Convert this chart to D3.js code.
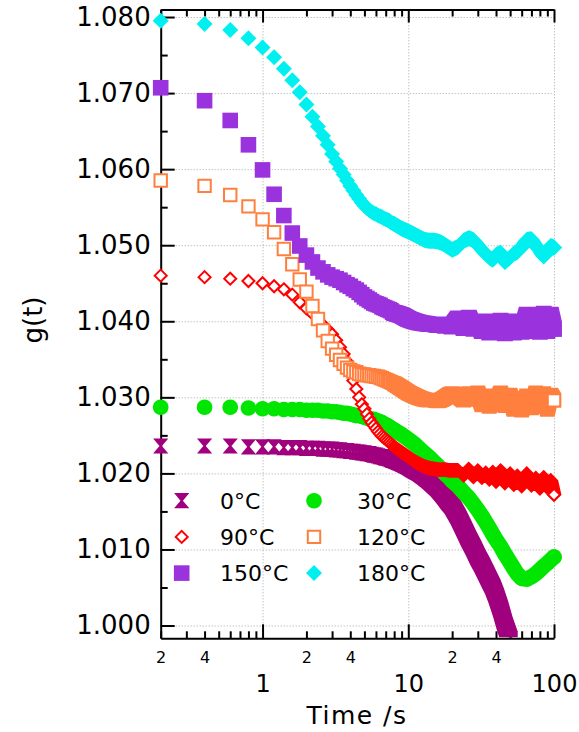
<!DOCTYPE html>
<html>
<head>
<meta charset="utf-8">
<script src="https://cdn.jsdelivr.net/npm/d3@7"></script>
<style>
  body { margin: 0; background: #fff; }
  svg { display: block; }
</style>
</head>
<body>
<script>
// ================= DATA ======================
// time points (s)
const times = [0.2,0.4,0.6,0.8,1.0,1.2,1.4,1.6,1.8,2.0,
               2.2,2.4,2.6,2.8,3.0,3.2,3.4,3.6,3.8,4.0,
               4.2,4.4,4.6,4.8,5.0,5.2,5.4,5.6,5.8,6.0,
               6.2,6.4,6.6,6.8,7.0,7.2,7.4,7.6,7.8,8.0,
               9,10,11,12,13,14,15,16,17,18,19,20,
               22,24,26,28,30,32,34,36,38,40,
               43,46,50,53,56,60,65,70,75,80,85,90,95,100];

const seriesNames = ["0°C", "30°C", "90°C", "120°C", "150°C", "180°C"];

const g0 = [1.0236,1.0236,1.0236,1.0235,1.0235,1.0235,1.0234,1.0234,1.0234,1.0233,
            1.0233,1.0233,1.0232,1.0232,1.0232,1.0231,1.0231,1.0230,1.0230,1.0229,
            1.0229,1.0228,1.0228,1.0227,1.0227,1.0226,1.0226,1.0225,1.0224,1.0224,
            1.0223,1.0222,1.0222,1.0221,1.0220,1.0220,1.0219,1.0218,1.0217,1.0217,
            1.0213,1.0209,1.0204,1.0200,1.0195,1.0190,1.0185,1.0180,1.0174,1.0168,1.0162,1.0157,
            1.0143,1.0128,1.0114,1.0102,1.0090,1.0080,1.0070,1.0060,1.0051,1.0040,
            1.0022,1.0002,0.9982];

const g30 = [1.0287,1.0287,1.0287,1.0286,1.0285,1.0285,1.0284,1.0284,1.0284,1.0283,
             1.0283,1.0283,1.0282,1.0282,1.0281,1.0281,1.0280,1.0279,1.0279,1.0278,
             1.0277,1.0276,1.0276,1.0275,1.0274,1.0273,1.0272,1.0271,1.0271,1.0270,
             1.0269,1.0268,1.0267,1.0265,1.0264,1.0263,1.0261,1.0260,1.0258,1.0257,
             1.0251,1.0245,1.0239,1.0232,1.0226,1.0221,1.0215,1.0210,1.0204,1.0199,1.0195,1.0190,
             1.0183,1.0175,1.0168,1.0160,1.0152,1.0144,1.0136,1.0128,1.0120,1.0113,
             1.0104,1.0094,1.0083,1.0075,1.0068,1.0062,1.0061,1.0064,1.0068,1.0073,1.0078,1.0082,1.0086,1.0090];

const g90 = [1.0460,1.0458,1.0456,1.0453,1.0450,1.0446,1.0442,1.0435,1.0425,1.0417,
             1.0410,1.0404,1.0395,1.0389,1.0383,1.0375,1.0366,1.0357,1.0347,1.0335,
             1.0322,1.0311,1.0300,1.0291,1.0285,1.0278,1.0272,1.0267,1.0263,1.0259,
             1.0255,1.0252,1.0249,1.0247,1.0245,1.0243,1.0241,1.0239,1.0237,1.0235,
             1.0228,1.0222,1.0216,1.0212,1.0209,1.0207,1.0206,1.0205,1.0205,1.0205,1.0204,1.0204,
             1.0204,1.0197,1.0206,1.0195,1.0204,1.0194,1.0201,1.0192,1.0202,1.0189,
             1.0204,1.0187,1.0200,1.0185,1.0197,1.0183,1.0200,1.0184,1.0194,1.0180,1.0195,1.0181,1.0191,1.0172];

const g120 = [1.0585,1.0578,1.0566,1.0551,1.0534,1.0517,1.0495,1.0475,1.0455,1.0439,
              1.0420,1.0403,1.0388,1.0374,1.0364,1.0356,1.0349,1.0344,1.0339,1.0336,
              1.0334,1.0333,1.0331,1.0330,1.0330,1.0329,1.0329,1.0328,1.0328,1.0327,
              1.0327,1.0326,1.0325,1.0324,1.0323,1.0322,1.0321,1.0320,1.0319,1.0318,
              1.0312,1.0306,1.0302,1.0299,1.0297,1.0296,1.0296,1.0295,1.0297,1.0300,1.0303,1.0305,
              1.0302,1.0296,1.0305,1.0297,1.0306,1.0290,1.0299,1.0288,1.0302,1.0293,
              1.0306,1.0289,1.0303,1.0284,1.0299,1.0283,1.0302,1.0286,1.0306,1.0289,1.0305,1.0284,1.0303,1.0296];

const g150 = [1.0707,1.0690,1.0664,1.0632,1.0599,1.0567,1.0539,1.0516,1.0499,1.0487,
              1.0478,1.0470,1.0465,1.0461,1.0458,1.0456,1.0454,1.0451,1.0448,1.0446,
              1.0443,1.0441,1.0438,1.0435,1.0432,1.0430,1.0428,1.0426,1.0424,1.0423,
              1.0422,1.0421,1.0419,1.0418,1.0417,1.0416,1.0415,1.0414,1.0412,1.0411,
              1.0408,1.0403,1.0400,1.0398,1.0397,1.0396,1.0396,1.0395,1.0396,1.0394,1.0395,1.0393,
              1.0404,1.0391,1.0405,1.0390,1.0400,1.0387,1.0398,1.0385,1.0400,1.0385,
              1.0401,1.0384,1.0400,1.0385,1.0399,1.0386,1.0409,1.0387,1.0409,1.0386,1.0410,1.0387,1.0409,1.0390];

const g180 = [1.0795,1.0791,1.0783,1.0772,1.0760,1.0747,1.0732,1.0717,1.0701,1.0685,
              1.0669,1.0656,1.0644,1.0632,1.0620,1.0610,1.0601,1.0593,1.0585,1.0578,
              1.0572,1.0566,1.0561,1.0556,1.0552,1.0549,1.0546,1.0544,1.0542,1.0541,
              1.0539,1.0538,1.0537,1.0535,1.0534,1.0533,1.0532,1.0530,1.0529,1.0528,
              1.0522,1.0518,1.0514,1.0510,1.0507,1.0506,1.0506,1.0505,1.0503,1.0500,1.0497,1.0494,
              1.0498,1.0506,1.0509,1.0507,1.0500,1.0494,1.0488,1.0484,1.0481,1.0487,
              1.0490,1.0478,1.0484,1.0489,1.0491,1.0497,1.0507,1.0508,1.0499,1.0493,1.0485,1.0490,1.0499,1.0497];

const seriesValues = [g0, g30, g90, g120, g150, g180];

// tick values
const yMajor = [1.000,1.010,1.020,1.030,1.040,1.050,1.060,1.070,1.080];
const yMinor = [1.005,1.015,1.025,1.035,1.045,1.055,1.065,1.075];
const xMajor = [1, 10, 100];
const xMinor = [0.2,0.3,0.4,0.5,0.6,0.7,0.8,0.9, 2,3,4,5,6,7,8,9, 20,30,40,50,60,70,80,90];
const xMinorLabeled = [0.2, 0.4, 2, 4, 20, 40];

// ================== LAYOUT ===========================
const width = 579, height = 732;
const plotLeft = 160.7, plotRight = 554, plotTop = 9.5, plotBottom = 638.3;

const svg = d3.select("body").append("svg")
              .attr("width", width)
              .attr("height", height);

const xScale = d3.scaleLog().domain([0.2, 100]).range([plotLeft, plotRight]);
const yScale = d3.scaleLinear().domain([0.99832, 1.08099]).range([plotBottom, plotTop]);

const font = "'DejaVu Sans', sans-serif";

// marker shapes, as polygons around (0,0)
const shapes = {
  square: s => [[-s,-s],[s,-s],[s,s],[-s,s]],
  diamond: s => [[0,-s],[s,0],[0,s],[-s,0]],
  circle: s => d3.range(24).map(i => [s*Math.cos(i*Math.PI/12), s*Math.sin(i*Math.PI/12)]),
  hourglass: s => [[-s,-s],[s,-s],[s*0.16,0],[s,s],[-s,s],[-s*0.16,0]]
};
const polyPath = pts => "M" + pts.map(p => p[0].toFixed(2) + "," + p[1].toFixed(2)).join("L") + "Z";

const styles = [
  {shape: "hourglass", size: 7.6, band: 7.6, color: "#a0007e", hollow: false},
  {shape: "circle",    size: 7.8, band: 7.8, color: "#00e600", hollow: false},
  {shape: "diamond",   size: 6.0, band: 7.4, color: "#ff0000", hollow: true},
  {shape: "square",    size: 6.2, band: 7.2, color: "#ff7f3f", hollow: true},
  {shape: "square",    size: 7.8, band: 7.8, color: "#9a33dd", hollow: false},
  {shape: "diamond",   size: 8.0, band: 8.0, color: "#00f0f0", hollow: false}
];

// ===================== GRID =======================
const gridColor = "#a8a8a8";
svg.append("g")
   .attr("transform", `translate(${plotLeft},0)`)
   .call(d3.axisLeft(yScale).tickValues(yMajor).tickSize(-(plotRight - plotLeft)).tickFormat(""))
   .call(g => g.select(".domain").remove())
   .selectAll("line").attr("stroke", gridColor).attr("stroke-dasharray", "1,2");

svg.append("g")
   .attr("transform", `translate(0,${plotBottom})`)
   .call(d3.axisBottom(xScale).tickValues(xMajor).tickSize(-(plotBottom - plotTop)).tickFormat(""))
   .call(g => g.select(".domain").remove())
   .selectAll("line").attr("stroke", gridColor).attr("stroke-dasharray", "1,2");

// ===================== AXES =======================
function styleAxis(g, size) {
  g.attr("font-family", font).attr("font-size", size);
  g.select(".domain").attr("stroke-width", 2);
  g.selectAll(".tick line").attr("stroke-width", 2);
  g.selectAll(".tick text").attr("fill", "#000");
}

// left
svg.append("g")
   .attr("transform", `translate(${plotLeft},0)`)
   .call(d3.axisLeft(yScale).tickValues(yMajor).tickSize(-14).tickSizeOuter(0)
           .tickPadding(10).tickFormat(d3.format(".3f")))
   .call(g => styleAxis(g, 26));
svg.append("g")
   .attr("transform", `translate(${plotLeft},0)`)
   .call(d3.axisLeft(yScale).tickValues(yMinor).tickSize(-7).tickFormat(""))
   .call(g => g.select(".domain").remove())
   .call(g => styleAxis(g, 10));

// bottom
svg.append("g")
   .attr("transform", `translate(0,${plotBottom})`)
   .call(d3.axisBottom(xScale).tickValues(xMajor).tickSize(-14).tickSizeOuter(0)
           .tickPadding(37).tickFormat(d3.format("d")))
   .call(g => styleAxis(g, 24));
svg.append("g")
   .attr("transform", `translate(0,${plotBottom})`)
   .call(d3.axisBottom(xScale).tickValues(xMinor).tickSize(-7).tickPadding(13)
           .tickFormat(d => xMinorLabeled.includes(d)
                ? String(Math.round(d / Math.pow(10, Math.floor(Math.log10(d) + 1e-9)))) : ""))
   .call(g => g.select(".domain").remove())
   .call(g => styleAxis(g, 16));

// top
svg.append("g")
   .attr("transform", `translate(0,${plotTop})`)
   .call(d3.axisTop(xScale).tickValues(xMajor).tickSize(-13).tickSizeOuter(0).tickFormat(""))
   .call(g => styleAxis(g, 10));
svg.append("g")
   .attr("transform", `translate(0,${plotTop})`)
   .call(d3.axisTop(xScale).tickValues(xMinor).tickSize(-7).tickFormat(""))
   .call(g => g.select(".domain").remove())
   .call(g => styleAxis(g, 10));

// axis titles
svg.append("text")
   .attr("x", 357).attr("y", 724)
   .attr("text-anchor", "middle")
   .attr("font-family", font).attr("font-size", 25)
   .attr("letter-spacing", 1.5)
   .text("Time /s");

svg.append("text")
   .attr("transform", "translate(42,320) rotate(-90)")
   .attr("text-anchor", "middle")
   .attr("font-family", font).attr("font-size", 26)
   .text("g(t)");

// ==================== DATA ===========================
svg.append("clipPath").attr("id", "clip")
   .append("rect").attr("x", 0).attr("y", 0).attr("width", width).attr("height", plotBottom - 1);

const plot = svg.append("g").attr("clip-path", "url(#clip)");

function drawMarkers(layer, pts, st) {
  layer.selectAll(null).data(pts).join("path")
       .attr("transform", p => `translate(${p[0]},${p[1]})`)
       .attr("d", polyPath(shapes[st.shape](st.size)))
       .attr("fill", st.hollow ? "#fff" : st.color)
       .attr("stroke", st.hollow ? st.color : "none")
       .attr("stroke-width", 2)
       .attr("stroke-linejoin", "miter");
}

const split = times.indexOf(8);

seriesValues.forEach((vals, k) => {
  const st = styles[k];
  const pts = vals.map((v, i) => [xScale(times[i]), yScale(v)]);
  const layer = plot.append("g").attr("class", "series");

  // separate markers for the early, sparse part
  drawMarkers(layer, pts.slice(0, split + 1), st);

  // dense tail: swept marker outline between consecutive points
  const bandShape = shapes[st.shape](st.band);
  let d = "";
  for (let i = split; i < pts.length - 1; i++) {
    const a = pts[i], b = pts[i + 1];
    const hull = d3.polygonHull(bandShape.map(q => [q[0] + a[0], q[1] + a[1]])
                     .concat(bandShape.map(q => [q[0] + b[0], q[1] + b[1]])));
    d += polyPath(hull);
  }
  layer.append("path").attr("d", d).attr("fill", st.color);

  // final point on top
  drawMarkers(layer.append("g"), [pts[pts.length - 1]], st);
});

// ==================== LEGEND ===========================
const legendCols = [{mx: 181.7, tx: 220}, {mx: 314, tx: 357}];
const legendRows = [500.7, 536.9, 573.1];

const legend = svg.append("g");
seriesNames.forEach((name, k) => {
  const col = legendCols[k % 2], row = legendRows[Math.floor(k / 2)];
  drawMarkers(legend.append("g"), [[col.mx, row]], styles[k]);
  legend.append("text")
        .attr("x", col.tx).attr("y", row).attr("dy", "0.36em")
        .attr("font-family", font).attr("font-size", 22)
        .text(name);
});
</script>
</body>
</html>
